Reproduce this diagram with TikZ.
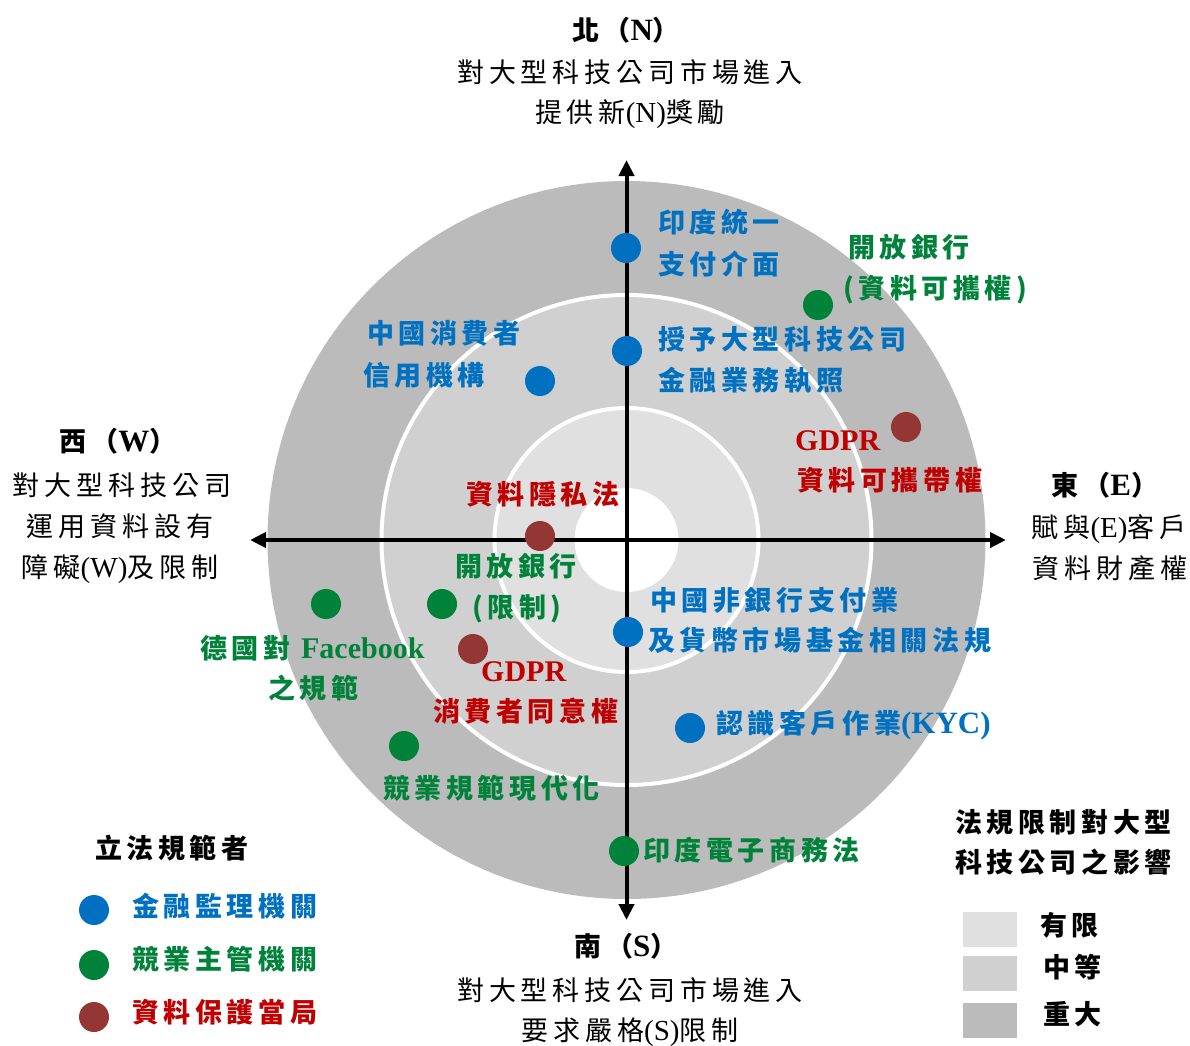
\documentclass[tikz,border=0pt]{standalone}
\usepackage{fontspec}
\setmainfont{Liberation Serif}
\newfontfamily\cjkR{Noto Sans CJK TC}[LetterSpace=18]
\newfontfamily\cjkB{Noto Sans CJK TC}[LetterSpace=17]
\newfontfamily\lat{Liberation Serif}
\usetikzlibrary{arrows.meta}
\definecolor{cblue}{HTML}{0070C0}
\definecolor{cgreen}{HTML}{00823B}
\definecolor{cred}{HTML}{C00000}
\definecolor{dred}{HTML}{943634}
\definecolor{gOuter}{HTML}{BBBBBB}
\definecolor{gMid}{HTML}{D0D0D0}
\definecolor{gIn}{HTML}{E0E0E0}
\tikzset{
  axis/.style={line width=4pt,{Triangle[length=16pt,width=15pt]}-{Triangle[length=16pt,width=15pt]}},
  dotB/.style={circle,fill=cblue,minimum size=30pt,inner sep=0pt},
  dotG/.style={circle,fill=cgreen,minimum size=30pt,inner sep=0pt},
  dotR/.style={circle,fill=dred,minimum size=30pt,inner sep=0pt},
  blk/.style={inner sep=0pt,text height=24pt,text depth=3pt,font=\cjkR\fontsize{27}{30}\selectfont},
  hd/.style={inner sep=0pt,text height=24pt,text depth=3pt,font=\cjkB\bfseries\fontsize{27}{30}\selectfont},
  lbl/.style={inner sep=0pt,anchor=west,text height=24pt,text depth=3pt,font=\cjkB\bfseries\fontsize{27}{30}\selectfont},
  lb/.style={lbl,text=cblue},
  lg/.style={lbl,text=cgreen},
  lr/.style={lbl,text=cred},
  key/.style={minimum width=54pt,minimum height=35pt,inner sep=0pt}
}
\begin{document}
\begin{tikzpicture}[x=1pt,y=-1pt]
\useasboundingbox (0,0) rectangle (1190,1045);
\coordinate (C) at (626.5,540);
% rings
\fill[gOuter] (C) circle (359pt);
\filldraw[fill=gMid,draw=white,line width=4pt] (C) circle (245pt);
\filldraw[fill=gIn,draw=white,line width=4pt] (C) circle (132pt);
\fill[white] (C) circle (52pt);
% axes
\coordinate (N) at (626.5,160);
\coordinate (S) at (626.5,920);
\coordinate (W) at (250,540);
\coordinate (E) at (1006,540);
\draw[axis] (S) -- (N);
\draw[axis] (W) -- (E);
% compass texts
\node[hd] (n0) at (626,30) {北（{\lat\fontsize{31}{30}\selectfont N}）};
\node[blk] (n1) at (630,72) {對大型科技公司市場進入};
\node[blk] (n2) at (630,112) {提供新{\lat\fontsize{29}{30}\selectfont(N)}獎勵};
\node[hd] (w0) at (118,441) {西（{\lat\fontsize{31}{30}\selectfont W}）};
\node[blk] (w1) at (122,485) {對大型科技公司};
\node[blk] (w2) at (120,526) {運用資料設有};
\node[blk] (w3) at (120,567) {障礙{\lat\fontsize{29}{30}\selectfont(W)}及限制};
\node[hd] (e0) at (1105,485) {東（{\lat\fontsize{31}{30}\selectfont E}）};
\node[blk] (e1) at (1109,527) {賦與{\lat\fontsize{29}{30}\selectfont(E)}客戶};
\node[blk] (e2) at (1110,568) {資料財產權};
\node[hd] (s0) at (626,946) {南（{\lat\fontsize{31}{30}\selectfont S}）};
\node[blk] (s1) at (630,990) {對大型科技公司市場進入};
\node[blk] (s2) at (630,1030) {要求嚴格{\lat\fontsize{29}{30}\selectfont(S)}限制};
% dots
\node[dotB] (d1) at (626,248) {};
\node[dotG] (d2) at (818,305) {};
\node[dotB] (d3) at (627,351) {};
\node[dotB] (d4) at (540,381) {};
\node[dotR] (d5) at (906,427) {};
\node[dotR] (d6) at (540,536) {};
\node[dotG] (d7) at (442,604) {};
\node[dotG] (d8) at (326,604) {};
\node[dotB] (d9) at (628,632) {};
\node[dotR] (d10) at (473,649) {};
\node[dotB] (d11) at (690,728) {};
\node[dotG] (d12) at (404,746) {};
\node[dotG] (d13) at (624,851) {};
% labels
\node[lb] (t1a) at (658,222) {印度統一};
\node[lb] (t1b) at (658,264) {支付介面};
\node[lg] (t2a) at (848,247) {開放銀行};
\node[lg] (t2b) at (843,288) {(資料可攜權)};
\node[lb] (t3a) at (658,339) {授予大型科技公司};
\node[lb] (t3b) at (658,380) {金融業務執照};
\node[lb] (t4a) at (367,333) {中國消費者};
\node[lb] (t4b) at (363,375) {信用機構};
\node[lr] (t5a) at (795,440) {{\lat\fontsize{30}{30}\selectfont GDPR}};
\node[lr] (t5b) at (797,480) {資料可攜帶權};
\node[lr] (t6) at (466,494) {資料隱私法};
\node[lg] (t7a) at (455,566) {開放銀行};
\node[lg] (t7b) at (472,607) {(限制)};
\node[lg] (t8a) at (200,648) {德國對 {\lat\fontsize{30}{30}\selectfont Facebook}};
\node[lg] (t8b) at (268,688) {之規範};
\node[lb] (t9a) at (650,600) {中國非銀行支付業};
\node[lb] (t9b) at (648,640) {及貨幣市場基金相關法規};
\node[lr] (t10a) at (481,671) {{\lat\fontsize{30}{30}\selectfont GDPR}};
\node[lr] (t10b) at (433,711) {消費者同意權};
\node[lb] (t11) at (716,723) {認識客戶作業{\lat\fontsize{31}{30}\selectfont(KYC)}};
\node[lg] (t12) at (383,788) {競業規範現代化};
\node[lg] (t13) at (643,850) {印度電子商務法};
% legend left
\node[lbl] (lt) at (95,848) {立法規範者};
\node[dotB] (ld1) at (94,910) {};
\node[dotG] (ld2) at (94,965) {};
\node[dotR] (ld3) at (94,1017) {};
\node[lb] (lx1) at (132,906) {金融監理機關};
\node[lg] (lx2) at (132,959) {競業主管機關};
\node[lr] (lx3) at (132,1012) {資料保護當局};
% legend right
\node[lbl] (rt1) at (955,822) {法規限制對大型};
\node[lbl] (rt2) at (955,862) {科技公司之影響};
\node[key,fill=gIn] (k1) at (990,929.5) {};
\node[key,fill=gMid] (k2) at (990,973.5) {};
\node[key,fill=gOuter] (k3) at (990,1020.5) {};
\node[lbl] (kx1) at (1040,925) {有限};
\node[lbl] (kx2) at (1043,967) {中等};
\node[lbl] (kx3) at (1043,1014) {重大};
\end{tikzpicture}
\end{document}
